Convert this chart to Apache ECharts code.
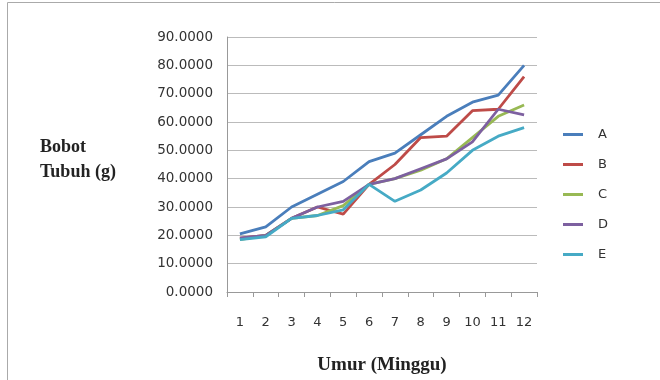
<!DOCTYPE html>
<html>
<head>
<meta charset="utf-8">
<script src="https://cdn.jsdelivr.net/npm/echarts@6/dist/echarts.min.js"></script>
<style>
  html, body { margin: 0; padding: 0; background: #fff; }
  #chart { width: 660px; height: 380px; }
</style>
</head>
<body>
<div id="chart"></div>
<script>
const weeks = ["1", "2", "3", "4", "5", "6", "7", "8", "9", "10", "11", "12"];
const seriesNames = ["A", "B", "C", "D", "E"];
const valuesA = [20.5, 23, 30, 34.5, 39, 46, 49, 55.5, 62, 67, 69.5, 80];
const valuesB = [19, 20, 26, 30, 27.5, 38, 45, 54.5, 55, 64, 64.5, 76];
const valuesC = [18.5, 20, 26, 27, 30.5, 38, 40, 43, 47, 54.5, 62, 66];
const valuesD = [19, 20, 26, 30, 32, 38, 40, 43.5, 47, 53, 64.5, 62.5];
const valuesE = [18.5, 19.5, 26, 27, 29, 38, 32, 36, 42, 50, 55, 58];
const colors = ["#4a7ebb", "#be4b48", "#98b954", "#7d60a0", "#46aac5"];

const allValues = [valuesA, valuesB, valuesC, valuesD, valuesE];

const chart = echarts.init(document.getElementById("chart"), null, { renderer: "canvas" });

chart.setOption({
  animation: false,
  backgroundColor: "#fff",
  grid: { left: 227, right: 123, top: 37, bottom: 82 },
  legend: {
    orient: "vertical",
    left: 558,
    top: 123,
    itemGap: 17,
    itemWidth: 20,
    itemHeight: 3,
    icon: "rect",
    data: seriesNames,
    textStyle: { fontFamily: "DejaVu Sans", fontSize: 13, color: "#333", padding: [0, 0, 0, 10] }
  },
  xAxis: {
    type: "category",
    data: weeks,
    boundaryGap: true,
    axisLine: { lineStyle: { color: "#999" } },
    axisTick: { show: true, length: 5, lineStyle: { color: "#999" } },
    axisLabel: { fontFamily: "DejaVu Sans", fontSize: 13, color: "#333", margin: 24 },
    name: "Umur (Minggu)",
    nameLocation: "middle",
    nameGap: 64,
    nameTextStyle: { fontFamily: "Liberation Serif", fontWeight: "bold", fontSize: 19, color: "#222" }
  },
  yAxis: {
    type: "value",
    min: 0,
    max: 90,
    interval: 10,
    axisLine: { show: true, lineStyle: { color: "#999" } },
    axisTick: { show: false },
    axisLabel: {
      fontFamily: "DejaVu Sans", fontSize: 13.5, color: "#333", margin: 14,
      formatter: v => v.toFixed(4)
    },
    splitLine: { lineStyle: { color: "#bbb", width: 1 } }
  },
  graphic: [
    {
      type: "rect",
      shape: { x: 7.5, y: 2.5, width: 700, height: 400 },
      style: { fill: "none", stroke: "#aaa", lineWidth: 1 }
    },
    {
      type: "text",
      left: 40,
      top: 135,
      style: {
        text: "Bobot\nTubuh (g)",
        font: "bold 18px 'Liberation Serif'",
        fill: "#222",
        lineHeight: 25
      }
    }
  ],
  series: seriesNames.map((name, i) => ({
    name: name,
    type: "line",
    data: allValues[i],
    symbol: "none",
    lineStyle: { width: 2.8, color: colors[i] },
    itemStyle: { color: colors[i] }
  }))
});
</script>
</body>
</html>
